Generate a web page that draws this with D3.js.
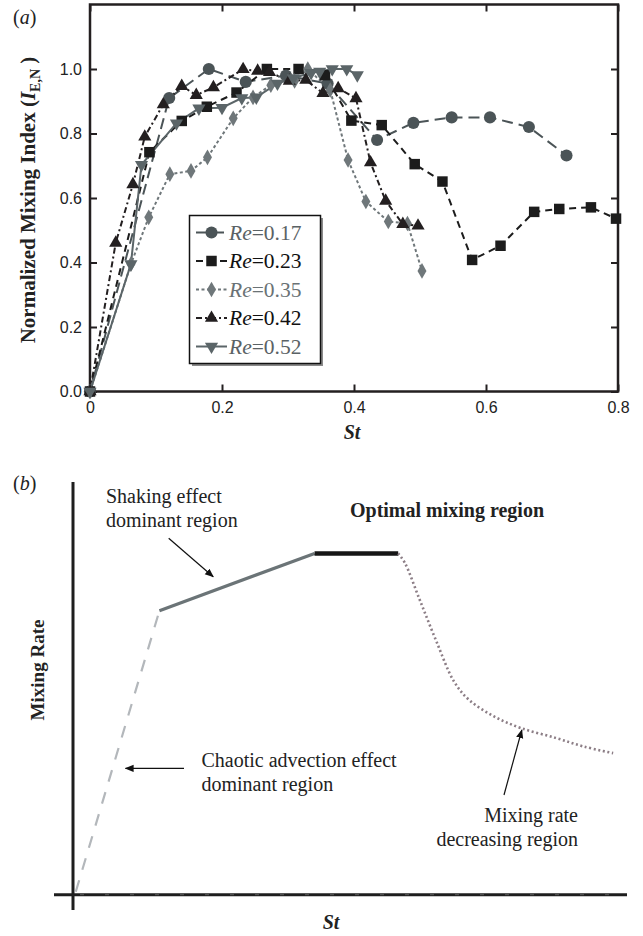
<!DOCTYPE html>
<html><head><meta charset="utf-8">
<script src="https://cdn.jsdelivr.net/npm/d3@7"></script>
<style>body{margin:0;background:#fff}svg{display:block}</style>
</head><body>
<svg id="c" width="643" height="936"></svg>
<script>
// ---------- Panel (a) data: [St, I_E,N] ----------
const re017 = [[0,0],[0.12,0.91],[0.18,1.0],[0.236,0.96],[0.297,0.98],[0.36,0.955],[0.435,0.78],[0.49,0.833],[0.548,0.85],[0.606,0.85],[0.665,0.82],[0.722,0.732]];
const re023 = [[0,0],[0.09,0.742],[0.139,0.839],[0.177,0.883],[0.222,0.927],[0.268,1.0],[0.316,1.0],[0.356,0.981],[0.396,0.84],[0.442,0.826],[0.492,0.705],[0.534,0.651],[0.579,0.408],[0.622,0.452],[0.673,0.557],[0.711,0.566],[0.759,0.571],[0.797,0.536]];
const re035 = [[0,0],[0.062,0.395],[0.089,0.54],[0.121,0.674],[0.153,0.684],[0.178,0.726],[0.217,0.847],[0.247,0.912],[0.274,0.95],[0.31,0.963],[0.33,1.0],[0.364,0.935],[0.391,0.718],[0.418,0.589],[0.452,0.527],[0.481,0.521],[0.503,0.374]];
const re042 = [[0,0],[0.039,0.461],[0.065,0.642],[0.083,0.79],[0.111,0.89],[0.139,0.947],[0.161,0.919],[0.187,0.943],[0.232,0.999],[0.254,0.994],[0.272,0.99],[0.302,0.963],[0.327,0.966],[0.353,0.925],[0.376,0.94],[0.403,0.909],[0.425,0.71],[0.448,0.591],[0.474,0.519],[0.497,0.514]];
const re052 = [[0,0],[0.062,0.395],[0.078,0.703],[0.131,0.832],[0.165,0.878],[0.2,0.88],[0.23,0.91],[0.252,0.912],[0.284,0.955],[0.308,0.972],[0.335,0.988],[0.348,0.992],[0.367,1.0],[0.389,1.0],[0.405,0.981]];
const seriesLabels = ["0.17","0.23","0.35","0.42","0.52"];
const xTicksA = [0,0.2,0.4,0.6,0.8];
const yTicksA = [0,0.2,0.4,0.6,0.8,1.0];

// ---------- Panel (b) schematic data (arbitrary units 0-100) ----------
const chaoticSeg   = [[0.5,0.7],[15.6,68.8]];
const shakingSeg   = [[15.6,68.8],[43.6,82.7]];
const optimalSeg   = [[43.6,82.7],[58.7,82.7]];
const decreasingSeg= [[58.7,82.7],[59.9,80.4],[62.6,71.4],[65.5,61.7],[68.8,51.6],[71.5,47.2],[76.0,43.2],[80.8,40.4],[87.1,38.0],[92.2,35.9],[97.5,34.3]];

(function(){
const svg = d3.select("#c");
const SERIF = "'Liberation Serif','Times New Roman',serif";
const SANS = "'Liberation Sans',Arial,sans-serif";

// ===== Panel (a) =====
const xA = d3.scaleLinear().domain([0,0.8]).range([90,618]);
const yA = d3.scaleLinear().domain([0,1.2]).range([391.5,4.5]);
const gA = svg.append("g");

const axisCol = "#231f20";
const fmtX = d => d===0 ? "0" : d.toFixed(1);
const axB = gA.append("g").attr("transform",`translate(0,${yA(0)})`)
  .call(d3.axisBottom(xA).tickValues(xTicksA).tickFormat(fmtX).tickSize(-7).tickSizeOuter(0).tickPadding(10));
const axL = gA.append("g").attr("transform",`translate(${xA(0)},0)`)
  .call(d3.axisLeft(yA).tickValues(yTicksA).tickFormat(d3.format(".1f")).tickSize(-7).tickSizeOuter(0).tickPadding(8));
const axT = gA.append("g").attr("transform",`translate(0,${yA(1.2)})`)
  .call(d3.axisTop(xA).tickValues(xTicksA).tickFormat("").tickSize(-7).tickSizeOuter(0));
const axR = gA.append("g").attr("transform",`translate(${xA(0.8)},0)`)
  .call(d3.axisRight(yA).tickValues(yTicksA).tickFormat("").tickSize(-7).tickSizeOuter(0));
[axB,axL,axT,axR].forEach(a=>{
  a.select(".domain").remove();
  a.selectAll("line").attr("stroke",axisCol).attr("stroke-width",2);
  a.selectAll("text").attr("font-family",SANS).attr("font-size",16).attr("fill","#222");
});
gA.append("rect").attr("x",xA(0)).attr("y",yA(1.2)).attr("width",xA(0.8)-xA(0)).attr("height",yA(0)-yA(1.2))
  .attr("fill","none").attr("stroke",axisCol).attr("stroke-width",2.5);

const styles = [
  {data:re017, col:"#4b5457", dash:"11,6", sym:d3.symbolCircle, size:115, rot:0, txt:"#5a6265"},
  {data:re023, col:"#1c1c1c", dash:"7,5", sym:d3.symbolSquare, size:110, rot:0, txt:"#111"},
  {data:re035, col:"#6f777a", dash:"3,2.5", sym:d3.symbolDiamond, size:70, rot:0, txt:"#6a7275"},
  {data:re042, col:"#231f20", dash:"6,3,2,3", sym:d3.symbolTriangle, size:75, rot:0, txt:"#111"},
  {data:re052, col:"#5b6568", dash:null, sym:d3.symbolTriangle, size:75, rot:180, txt:"#5a6265"}
];
const line = d3.line().x(d=>xA(d[0])).y(d=>yA(d[1]));
styles.forEach(s=>{
  gA.append("path").attr("d",line(s.data)).attr("fill","none").attr("stroke",s.col)
    .attr("stroke-width",2).attr("stroke-dasharray",s.dash);
});
styles.forEach(s=>{
  gA.selectAll(null).data(s.data).enter().append("path")
    .attr("d",d3.symbol().type(s.sym).size(s.size))
    .attr("transform",d=>`translate(${xA(d[0])},${yA(d[1])}) rotate(${s.rot})`)
    .attr("fill",s.col);
});

// legend
const lg = gA.append("g");
lg.append("rect").attr("x",192).attr("y",218).attr("width",131).attr("height",148).attr("fill","#8a8a8a");
lg.append("rect").attr("x",189.5).attr("y",215.5).attr("width",131).attr("height",148).attr("fill","#fff").attr("stroke","#111").attr("stroke-width",1.5);
styles.forEach((s,i)=>{
  const cy = 232.5 + i*28.5;
  lg.append("line").attr("x1",196).attr("x2",227).attr("y1",cy).attr("y2",cy)
    .attr("stroke",s.col).attr("stroke-width",2).attr("stroke-dasharray",s.dash);
  lg.append("path").attr("d",d3.symbol().type(s.sym).size(s.size))
    .attr("transform",`translate(211.5,${cy}) rotate(${s.rot})`).attr("fill",s.col);
  const t = lg.append("text").attr("x",229).attr("y",cy+7).attr("font-family",SERIF).attr("font-size",21.5).attr("fill",s.txt);
  t.append("tspan").attr("font-style","italic").text("Re");
  t.append("tspan").text("="+seriesLabels[i]);
});

// titles
gA.append("text").attr("x",13).attr("y",24).attr("font-family",SERIF).attr("font-size",20).attr("fill","#222")
  .html('(<tspan font-style="italic">a</tspan>)');
gA.append("text").attr("x",352).attr("y",439).attr("text-anchor","middle").attr("font-family",SERIF)
  .attr("font-size",20).attr("font-weight","bold").attr("font-style","italic").attr("fill","#222").text("St");
const yt = gA.append("text").attr("transform","translate(35,200) rotate(-90)").attr("text-anchor","middle")
  .attr("font-family",SERIF).attr("font-size",21).attr("font-weight","bold").attr("fill","#222");
yt.append("tspan").text("Normalized Mixing Index (");
yt.append("tspan").attr("font-style","italic").text("I");
yt.append("tspan").attr("font-size",14).attr("dy",5).text("E,N");
yt.append("tspan").attr("dy",-5).text(" )");

// ===== Panel (b) =====
const xB = d3.scaleLinear().domain([0,100]).range([73,627]);
const yB = d3.scaleLinear().domain([0,100]).range([894.7,482]);
const gB = svg.append("g");
const lineB = d3.line().x(d=>xB(d[0])).y(d=>yB(d[1]));

gB.append("line").attr("x1",xB(0)).attr("x2",xB(0)).attr("y1",yB(100)).attr("y2",910).attr("stroke","#1e1e1e").attr("stroke-width",3);
gB.append("line").attr("x1",54).attr("x2",xB(100)).attr("y1",yB(0)).attr("y2",yB(0)).attr("stroke","#1e1e1e").attr("stroke-width",3);
gB.append("line").attr("x1",80).attr("x2",xB(100)).attr("y1",yB(0)).attr("y2",yB(0)).attr("stroke","#5a5a5a").attr("stroke-width",1).attr("stroke-dasharray","4,21");

gB.append("path").attr("d",lineB(chaoticSeg)).attr("fill","none").attr("stroke","#b3b7bb").attr("stroke-width",2.2).attr("stroke-dasharray","12,11");
gB.append("path").attr("d",lineB(shakingSeg)).attr("fill","none").attr("stroke","#6b7477").attr("stroke-width",3.2);
gB.append("path").attr("d",lineB(optimalSeg)).attr("fill","none").attr("stroke","#161616").attr("stroke-width",4.5);
gB.append("path").attr("d",d3.line().x(d=>xB(d[0])).y(d=>yB(d[1])).curve(d3.curveCatmullRom)(decreasingSeg))
  .attr("fill","none").attr("stroke","#8c7e86").attr("stroke-width",2.6).attr("stroke-dasharray","2,2.6");

svg.append("defs").append("marker").attr("id","arr").attr("viewBox","0 0 10 10").attr("refX",9).attr("refY",5)
  .attr("markerWidth",9).attr("markerHeight",9).attr("markerUnits","userSpaceOnUse").attr("orient","auto")
  .append("path").attr("d","M0,1 L10,5 L0,9 Z").attr("fill","#111");
const arrows = [[168.7,538.3,213.2,576.7],[184,768.3,125.5,768.3],[504,795,521.8,730]];
arrows.forEach(a=>{
  gB.append("line").attr("x1",a[0]).attr("y1",a[1]).attr("x2",a[2]).attr("y2",a[3])
    .attr("stroke","#111").attr("stroke-width",1.2).attr("marker-end","url(#arr)");
});

const txt = (x,y,s,opt={})=>gB.append("text").attr("x",x).attr("y",y).attr("font-family",SERIF)
  .attr("font-size",opt.size||20).attr("font-weight",opt.bold?"bold":"normal").attr("text-anchor",opt.anchor||"start")
  .attr("fill","#222").text(s);
gB.append("text").attr("x",13).attr("y",490).attr("font-family",SERIF).attr("font-size",20).attr("fill","#222")
  .html('(<tspan font-style="italic">b</tspan>)');
txt(106,503,"Shaking effect");
txt(106,527,"dominant region");
txt(447,517,"Optimal mixing region",{bold:true,anchor:"middle"});
txt(201.5,767,"Chaotic advection effect");
txt(201.5,791,"dominant region");
txt(578,822,"Mixing rate",{anchor:"end"});
txt(578,846,"decreasing region",{anchor:"end"});
gB.append("text").attr("transform","translate(44,670) rotate(-90)").attr("text-anchor","middle")
  .attr("font-family",SERIF).attr("font-size",19).attr("font-weight","bold").attr("fill","#222").text("Mixing Rate");
gB.append("text").attr("x",331).attr("y",929).attr("text-anchor","middle").attr("font-family",SERIF)
  .attr("font-size",20).attr("font-weight","bold").attr("font-style","italic").attr("fill","#222").text("St");
})();
</script>
</body></html>
